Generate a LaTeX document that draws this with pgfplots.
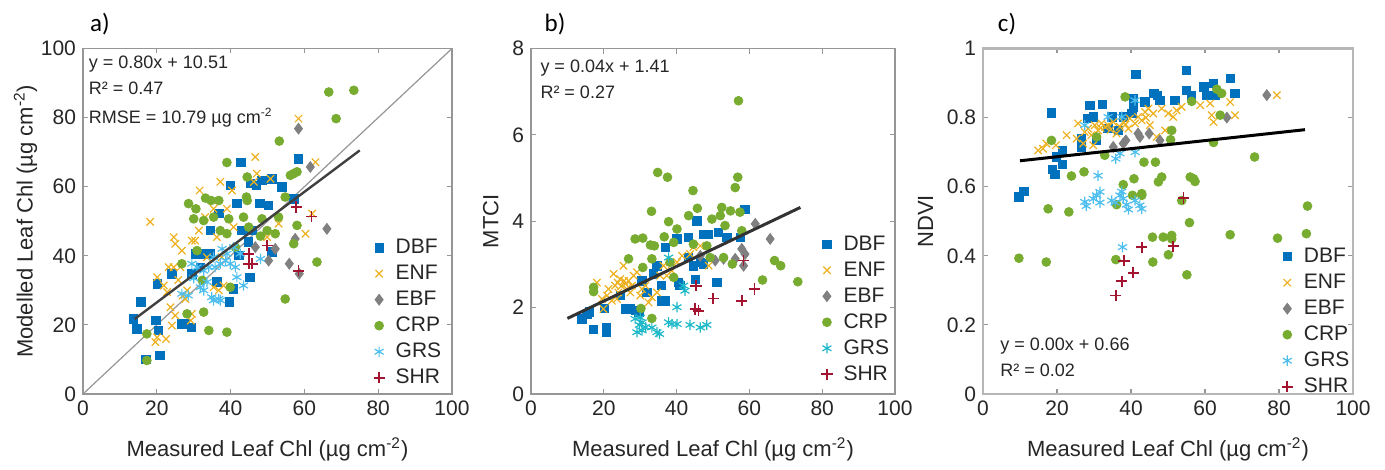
\documentclass[border=0pt]{standalone}
\usepackage{fontspec}
\setmainfont{Liberation Sans}
\newfontfamily\titlefont{Carlito}
\usepackage{pgfplots}
\pgfplotsset{compat=1.18}
\definecolor{cDBF}{RGB}{0,114,189}
\definecolor{cENF}{RGB}{237,177,32}
\definecolor{cEBF}{RGB}{128,128,128}
\definecolor{cCRP}{RGB}{119,172,48}
\definecolor{cGRS}{RGB}{77,190,238}
\definecolor{cGRSb}{RGB}{30,185,200}
\definecolor{cSHR}{RGB}{162,20,47}
\definecolor{frame}{RGB}{150,150,150}
\definecolor{txt}{RGB}{38,38,38}
\tikzset{
  ann/.style={anchor=west, inner sep=0pt, font=\fontsize{9}{11}\selectfont, text=txt},
  ttl/.style={font=\titlefont\fontsize{12.5}{14}\selectfont},
}
\pgfplotsset{
  panel/.style={scale only axis, width=183pt, height=172.75pt,
    clip mode=individual,
    xmin=0, xmax=100, xtick={0,20,...,100},
    tick align=inside, major tick length=2.5pt,
    axis line style={frame, line width=0.6pt}, tick style={frame, line width=0.6pt},
    ticklabel style={font=\fontsize{10.5}{12}\selectfont, text=txt},
    /pgf/number format/assume math mode=true,
    label style={font=\fontsize{11}{13}\selectfont, text=txt},
    xlabel={Measured Leaf Chl (µg cm\textsuperscript{-2})},
    xlabel style={yshift=-4pt},
    legend cell align=left,
    legend style={draw=none, fill=none, font=\fontsize{10.5}{13}\selectfont, text=txt,
      nodes={inner sep=0.5pt, text height=8pt, text depth=2pt}, row sep=2pt, column sep=5pt},
  },
  sDBF/.style={only marks, mark=square*, mark size=2.1pt, color=cDBF},
  sENF/.style={only marks, mark=x, mark size=2.6pt, color=cENF, line width=0.6pt},
  sEBF/.style={only marks, mark=diamond*, mark size=2.7pt, color=cEBF},
  sCRP/.style={only marks, mark=*, mark size=2.2pt, color=cCRP},
  sGRS/.style={only marks, mark=asterisk, mark size=2.6pt, color=cGRS, line width=0.6pt},
  sSHR/.style={only marks, mark=+, mark size=2.8pt, color=cSHR, line width=0.9pt},
}
\begin{document}
\begin{tikzpicture}
\useasboundingbox (0,0) rectangle (692.5pt,235pt);
% ---------------- a)
\begin{axis}[panel, at={(41.5pt,38pt)}, anchor=south west, width=184.5pt,
  ymin=0, ymax=100, ytick={0,20,...,100},
  ylabel={Modelled Leaf Chl (µg cm\textsuperscript{-2})},
  ylabel style={yshift=-5pt},
  legend style={at={(0.77,0.468)}, anchor=north west}]
\addplot[forget plot, color=frame, line width=0.6pt] coordinates {(0,0) (100,100)};
\addplot[sDBF] coordinates {(13.7,21.7)(15.7,26.6)(14.6,18.8)(19.8,21.3)(20.5,18.4)(20.8,11.1)(17.1,10.1)(20.1,31.9)(24.1,34.8)(26.8,20.3)(27.7,20.3)(29.3,19.3)(29.5,34.8)(30.4,40.6)(32.3,40.6)(34.5,40.6)(34.5,47.3)(36.8,52.2)(36.3,32.4)(39.7,26.6)(40.8,30.4)(39.9,60.4)(41.7,55.1)(42.8,67.0)(43.1,47.3)(42.2,40.1)(45.2,33.8)(44.9,44.0)(45.8,47.3)(45.3,60.9)(47.0,60.4)(47.9,55.1)(48.5,61.8)(50.3,54.6)(51.2,62.3)(51.2,41.1)(53.9,59.9)(58.4,68.1)(57.1,56.5)(31.8,36.7)};
\addlegendentry{DBF}
\addplot[sENF] coordinates {(18.2,49.8)(20.1,16.4)(19.6,15.0)(22.5,15.9)(24.1,19.8)(20.1,33.8)(21.9,31.4)(23.2,36.7)(24.6,36.7)(24.6,45.4)(25.0,43.5)(26.8,41.5)(26.4,36.7)(23.7,25.1)(25.0,22.7)(27.7,27.5)(28.2,30.0)(29.5,23.2)(29.2,21.3)(31.6,58.9)(31.4,47.3)(29.5,44.4)(30.4,44.4)(33.1,51.2)(35.4,53.6)(37.2,61.4)(39.0,53.6)(40.4,58.9)(40.8,48.3)(36.3,45.4)(37.6,39.6)(35.4,30.9)(36.8,30.0)(38.1,31.4)(46.7,68.6)(47.1,63.8)(46.3,61.4)(49.9,45.4)(50.8,62.3)(53.0,49.3)(58.4,79.7)(63.0,67.1)(60.3,46.4)(62.1,52.2)(33.6,39.6)(22.8,29.5)(25.8,33.0)(27.0,28.5)};
\addlegendentry{ENF}
\addplot[sEBF] coordinates {(58.4,76.8)(61.6,65.7)(66.1,47.8)(57.5,44.9)(55.9,37.7)(58.6,34.8)(50.3,38.6)(46.7,42.5)(52.1,42.0)};
\addlegendentry{EBF}
\addplot[sCRP] coordinates {(73.4,87.9)(66.6,87.4)(68.6,79.7)(53.2,73.2)(39.0,67.0)(28.6,55.1)(30.6,53.6)(33.2,56.7)(34.7,56.0)(36.8,56.0)(30.0,50.7)(32.7,50.2)(35.4,51.2)(37.2,47.3)(39.5,50.7)(44.5,62.8)(44.3,57.0)(44.5,56.0)(44.9,48.3)(48.5,50.7)(49.9,47.3)(48.1,45.7)(43.5,51.2)(54.8,57.0)(56.2,63.3)(57.1,63.8)(58.0,64.3)(53.0,51.2)(52.1,46.4)(57.1,43.5)(58.0,48.8)(63.4,38.2)(54.8,27.5)(39.9,30.9)(39.0,17.9)(34.1,18.4)(32.7,23.7)(28.2,23.2)(26.8,37.7)(30.9,41.5)(17.3,17.4)(17.3,9.7)(32.3,32.9)(41.3,42.5)(39.0,46.4)};
\addlegendentry{CRP}
\addplot[sGRS] coordinates {(26.8,29.0)(29.5,37.7)(30.9,36.7)(31.8,30.9)(33.6,32.4)(34.9,28.0)(35.4,27.1)(36.8,27.5)(37.2,27.1)(35.8,36.7)(37.2,37.7)(38.6,38.6)(39.9,37.7)(41.3,36.7)(40.8,42.5)(42.6,40.6)(41.7,33.8)(43.5,31.4)(39.0,40.6)(37.7,42.0)(34.1,36.7)(32.7,35.7)(48.1,39.1)(35.4,39.6)(32.7,30.0)(28.5,28.5)(30.0,33.5)};
\addlegendentry{GRS}
\addplot[sSHR] coordinates {(44.9,40.6)(44.9,37.7)(45.8,37.7)(49.9,43.0)(57.8,54.1)(61.9,51.4)(58.4,35.7)};
\addlegendentry{SHR}
\addplot[forget plot, color=black!75, line width=1.2pt] coordinates {(14,21.7) (75,70.5)};
\node[ann] at (rel axis cs:0.015,0.954) {y = 0.80x + 10.51};
\node[ann] at (rel axis cs:0.015,0.884) {R² = 0.47};
\node[ann] at (rel axis cs:0.015,0.800) {RMSE = 10.79 µg cm\textsuperscript{-2}};
\node[ttl] at (rel axis cs:0.046,1.07) {a)};
\end{axis}
% ---------------- b)
\begin{axis}[panel, at={(265.5pt,38pt)}, anchor=south west, width=182pt,
  ymin=0, ymax=8, ytick={0,2,...,8},
  ylabel={MTCI},
  legend style={at={(0.78,0.478)}, anchor=north west}]
\addplot[sDBF] coordinates {(14.0,1.74)(15.4,1.85)(17.2,1.50)(20.7,1.43)(20.7,1.54)(20.1,1.98)(24.5,2.28)(25.9,1.97)(27.3,1.97)(28.6,1.93)(29.6,1.89)(30.5,2.62)(31.8,2.35)(33.7,2.78)(34.6,2.97)(35.9,2.51)(35.9,2.16)(36.9,2.16)(36.9,3.40)(40.1,3.59)(40.5,2.58)(40.9,2.51)(43.3,3.63)(43.3,3.16)(44.6,2.97)(45.1,2.66)(45.6,4.01)(46.5,3.05)(47.4,3.70)(48.8,3.70)(47.4,3.01)(51.5,3.74)(51.1,2.58)(53.8,3.63)(57.5,3.63)(58.8,4.28)(16.0,1.90)};
\addlegendentry{DBF}
\addplot[sENF] coordinates {(18.1,2.58)(19.9,1.97)(21.3,2.43)(22.7,2.78)(23.1,2.51)(23.6,2.20)(24.5,2.66)(25.4,2.97)(25.9,2.55)(26.8,2.62)(27.3,2.35)(28.2,2.74)(29.1,2.82)(30.5,2.43)(31.4,2.51)(32.3,2.12)(33.2,2.24)(34.6,2.35)(36.4,2.97)(37.3,2.74)(38.7,2.85)(40.1,3.05)(41.5,3.20)(43.7,3.24)(44.6,3.40)(46.5,3.43)(48.8,2.97)(22.2,2.16)(24.0,2.35)(26.3,2.43)(20.9,2.28)(19.5,2.20)(27.7,2.51)(30.0,2.28)(35.5,2.74)(38.2,3.05)(24.8,2.50)(25.6,2.62)(23.8,2.58)};
\addlegendentry{ENF}
\addplot[sEBF] coordinates {(61.6,3.94)(65.7,3.59)(57.9,3.36)(58.8,3.24)(58.4,2.97)(56.1,3.13)(52.9,3.13)(50.6,3.09)(46.5,3.20)};
\addlegendentry{EBF}
\addplot[sCRP] coordinates {(57.0,6.79)(34.8,5.13)(37.5,5.02)(56.8,5.02)(56.1,4.78)(44.5,4.71)(33.1,4.23)(37.8,3.99)(40.1,3.82)(43.3,4.13)(49.7,4.05)(52.4,4.32)(52.0,4.13)(54.8,4.24)(57.4,4.21)(57.9,3.78)(53.3,3.90)(45.7,4.30)(28.6,3.59)(30.7,3.61)(32.8,3.45)(33.9,3.43)(36.6,3.64)(39.2,3.51)(44.6,3.47)(48.3,3.43)(52.9,3.16)(55.3,3.01)(66.9,3.09)(68.6,2.97)(73.3,2.60)(63.6,2.64)(26.8,3.13)(17.2,2.47)(17.2,2.37)(33.2,1.75)(30.2,1.98)(33.2,3.13)(38.2,3.05)(39.2,2.70)(30.7,2.93)(49.2,3.16)};
\addlegendentry{CRP}
\addplot[sGRS, color=cGRSb] coordinates {(29.1,1.43)(30.5,1.47)(30.5,1.66)(30.0,1.77)(28.6,1.74)(33.2,1.54)(34.6,1.43)(35.3,1.39)(37.8,1.66)(38.7,1.62)(40.1,1.62)(43.7,1.60)(46.5,1.54)(48.3,1.60)(40.1,2.01)(42.3,2.39)(41.9,2.51)(37.8,3.16)(31.5,1.55)(29.8,1.60)};
\addlegendentry{GRS}
\addplot[sSHR] coordinates {(45.3,2.51)(45.1,1.97)(46.0,1.93)(50.1,2.21)(57.9,2.16)(61.4,2.43)(58.4,3.09)};
\addlegendentry{SHR}
\addplot[forget plot, color=black!80, line width=1.5pt] coordinates {(10,1.75) (74,4.32)};
\node[ann] at (rel axis cs:0.025,0.942) {y = 0.04x + 1.41};
\node[ann] at (rel axis cs:0.025,0.872) {R² = 0.27};
\node[ttl] at (rel axis cs:0.066,1.07) {b)};
\end{axis}
% ---------------- c)
\begin{axis}[panel, at={(491.5pt,38pt)}, anchor=south west, width=185pt,
  ymin=0, ymax=1, ytick={0,0.2,...,1},
  yticklabels={0,0.2,0.4,0.6,0.8,1},
  axis line style={frame!70, line width=1.1pt},
  ylabel={NDVI},
  legend style={at={(0.79,0.442)}, anchor=north west}]
\addplot[sDBF] coordinates {(9.7,0.570)(11.0,0.587)(18.5,0.814)(18.8,0.650)(19.4,0.635)(19.9,0.686)(21.5,0.664)(21.5,0.705)(26.6,0.739)(26.6,0.715)(28.2,0.797)(28.9,0.836)(29.8,0.802)(32.3,0.838)(34.8,0.802)(36.6,0.763)(37.9,0.802)(40.2,0.812)(40.6,0.855)(41.3,0.925)(40.6,0.831)(43.8,0.845)(46.2,0.870)(47.1,0.865)(47.8,0.850)(51.9,0.850)(54.9,0.937)(54.9,0.879)(56.4,0.865)(59.7,0.889)(60.5,0.865)(62.3,0.899)(62.7,0.865)(66.8,0.913)(68.1,0.870)(30.7,0.734)(33.8,0.768)};
\addlegendentry{DBF}
\addplot[sENF] coordinates {(14.9,0.705)(16.2,0.710)(17.1,0.725)(19.7,0.720)(22.6,0.749)(25.3,0.739)(25.7,0.783)(27.1,0.725)(27.5,0.758)(28.4,0.768)(29.3,0.749)(30.2,0.778)(31.1,0.763)(32.0,0.783)(33.0,0.773)(33.8,0.778)(35.2,0.787)(36.1,0.754)(37.0,0.773)(37.9,0.787)(39.3,0.768)(39.7,0.797)(41.1,0.783)(41.9,0.802)(42.9,0.792)(43.8,0.816)(44.7,0.826)(45.1,0.778)(46.0,0.812)(46.9,0.744)(48.3,0.826)(49.2,0.763)(50.1,0.812)(51.4,0.802)(52.3,0.821)(53.7,0.831)(58.7,0.836)(61.4,0.841)(61.8,0.807)(62.3,0.787)(66.8,0.845)(68.1,0.807)(79.4,0.865)(29.8,0.720)(31.8,0.770)(34.5,0.765)(38.5,0.780)(44.0,0.800)};
\addlegendentry{ENF}
\addplot[sEBF] coordinates {(76.7,0.865)(65.9,0.800)(38.6,0.734)(37.9,0.725)(35.2,0.715)(41.9,0.754)(42.4,0.744)(44.9,0.754)(47.8,0.734)};
\addlegendentry{EBF}
\addplot[sCRP] coordinates {(9.7,0.393)(17.1,0.382)(17.6,0.536)(18.5,0.734)(23.2,0.527)(23.9,0.631)(27.3,0.643)(32.9,0.691)(35.9,0.389)(36.1,0.548)(37.9,0.606)(38.4,0.860)(40.8,0.623)(40.4,0.575)(42.9,0.580)(43.5,0.671)(45.8,0.454)(45.9,0.382)(46.6,0.671)(47.4,0.614)(48.3,0.628)(48.7,0.454)(50.1,0.403)(51.0,0.763)(50.7,0.736)(51.0,0.449)(51.0,0.459)(53.7,0.560)(55.1,0.345)(56.0,0.628)(55.8,0.496)(56.4,0.847)(56.9,0.623)(57.3,0.615)(62.3,0.728)(63.2,0.882)(64.1,0.807)(64.5,0.870)(66.8,0.461)(73.4,0.686)(79.6,0.451)(87.4,0.464)(87.7,0.544)(42.9,0.575)(30.7,0.744)};
\addlegendentry{CRP}
\addplot[sGRS] coordinates {(27.5,0.556)(27.9,0.544)(29.8,0.565)(30.7,0.575)(31.1,0.632)(31.6,0.585)(31.6,0.554)(34.8,0.560)(35.7,0.554)(37.0,0.575)(37.5,0.586)(37.9,0.565)(38.8,0.548)(39.3,0.534)(41.1,0.560)(42.4,0.546)(42.9,0.536)(35.9,0.681)(37.0,0.696)(37.5,0.802)(41.1,0.700)(41.1,0.850)(27.5,0.778)(33.8,0.802)(37.7,0.425)};
\addlegendentry{GRS}
\addplot[sSHR] coordinates {(35.9,0.285)(37.5,0.326)(38.1,0.386)(40.6,0.351)(42.9,0.425)(51.4,0.428)(54.2,0.567)};
\addlegendentry{SHR}
\addplot[forget plot, color=black, line width=1.5pt] coordinates {(10,0.675) (87,0.765)};
\node[ann] at (rel axis cs:0.046,0.138) {y = 0.00x + 0.66};
\node[ann] at (rel axis cs:0.046,0.068) {R² = 0.02};
\node[ttl] at (rel axis cs:0.065,1.07) {c)};
\end{axis}
\end{tikzpicture}
\end{document}
